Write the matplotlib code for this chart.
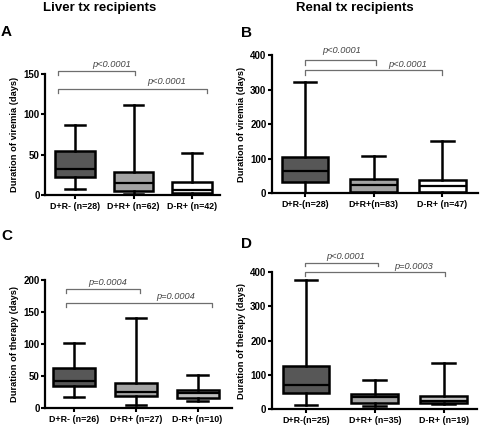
import matplotlib
matplotlib.use("Agg")
import matplotlib.pyplot as plt

plt.rcParams['font.family'] = ['Liberation Sans', 'DejaVu Sans']
plt.rcParams['font.weight'] = 'bold'

# ---- data ----
# A: liver, duration of viremia
a_labels = ["D+R- (n=28)", "D+R+ (n=62)", "D-R+ (n=42)"]
a_lo = [7.4, 1.6, 1.2]
a_q1 = [22.6, 5.3, 2.0]
a_med = [32.1, 14.4, 6.2]
a_q3 = [54.3, 28.0, 16.5]
a_hi = [87.2, 111.0, 52.7]

# B: renal, duration of viremia
b_labels = ["D+R-(n=28)", "D+R+(n=83)", "D-R+ (n=47)"]
b_lo = [0.5, 1.0, 1.0]
b_q1 = [34.0, 5.0, 3.0]
b_med = [66.0, 23.0, 21.0]
b_q3 = [105.0, 41.0, 39.0]
b_hi = [323.0, 107.0, 152.0]

# C: liver, duration of therapy
c_labels = ["D+R- (n=26)", "D+R+ (n=27)", "D-R+ (n=10)"]
c_lo = [16.7, 4.2, 10.4]
c_q1 = [34.5, 18.8, 15.7]
c_med = [42.3, 25.0, 22.5]
c_q3 = [62.7, 38.6, 27.7]
c_hi = [101.3, 140.0, 52.0]

# D: renal, duration of therapy
d_labels = ["D+R-(n=25)", "D+R+ (n=35)", "D-R+ (n=19)"]
d_lo = [11.6, 9.7, 14.5]
d_q1 = [46.5, 19.4, 19.0]
d_med = [70.7, 36.8, 25.0]
d_q3 = [126.0, 43.6, 38.7]
d_hi = [375.8, 85.0, 133.7]

a_p = ["p<0.0001", "p<0.0001"]
b_p = ["p<0.0001", "p<0.0001"]
c_p = ["p=0.0004", "p=0.0004"]
d_p = ["p<0.0001", "p=0.0003"]

fig = plt.figure(figsize=(4.8, 4.32), dpi=100)


def panel(rect, labels, lo, q1, med, q3, hi, colors, ymax, yticks, xlim,
          ylabel, brackets, pvals):
    ax = fig.add_axes(rect)
    stats = [dict(whislo=lo[i], q1=q1[i], med=med[i], q3=q3[i], whishi=hi[i])
             for i in range(3)]
    bp = ax.bxp(stats, positions=[0, 1, 2], widths=0.68, showfliers=False,
                patch_artist=True,
                boxprops=dict(linewidth=1.8, edgecolor='black'),
                whiskerprops=dict(linewidth=1.8),
                capprops=dict(linewidth=1.8),
                medianprops=dict(color='black', linewidth=1.6),
                capwidths=0.33)
    for patch, col in zip(bp['boxes'], colors):
        patch.set_facecolor(col)
    ax.set_xlim(*xlim)
    ax.set_ylim(0, ymax)
    ax.set_yticks(yticks)
    ax.set_xticks([0, 1, 2])
    ax.set_xticklabels(labels, fontsize=6.4, fontweight='bold')
    ax.tick_params(axis='y', labelsize=7.0, width=1.5, length=3, pad=1)
    ax.tick_params(axis='x', width=1.5, length=3, pad=2)
    for lab in ax.get_yticklabels():
        lab.set_fontweight('bold')
    ax.spines['top'].set_visible(False)
    ax.spines['right'].set_visible(False)
    ax.spines['left'].set_linewidth(1.6)
    ax.spines['bottom'].set_linewidth(1.6)
    ax.set_ylabel(ylabel, fontsize=6.7, fontweight='bold', labelpad=3)
    for (x0, x1, y, drop, ty, tx), pv in zip(brackets, pvals):
        ax.plot([x0, x0, x1, x1], [y - drop, y, y, y - drop], color='#6e6e6e',
                linewidth=0.9, clip_on=False)
        ax.text(tx, ty, pv, fontsize=6.7, style='italic', fontweight='normal',
                color='#444444', ha='center', va='center', clip_on=False)
    return ax


dark = '#575757'
mid = '#a3a3a3'

panel([0.094, 0.5486, 0.3646, 0.28], a_labels, a_lo, a_q1, a_med, a_q3, a_hi,
      [dark, mid, 'white'], 150, [0, 50, 100, 150], (-0.513, 2.48),
      "Duration of viremia (days)",
      [(-0.285, 1.03, 154, 5, 162, 0.63), (-0.285, 2.25, 132, 5, 141, 1.57)],
      a_p)

panel([0.5667, 0.5525, 0.429, 0.3194], b_labels, b_lo, b_q1, b_med, b_q3, b_hi,
      [dark, mid, 'white'], 400, [0, 100, 200, 300, 400], (-0.48, 2.52),
      "Duration of viremia (days)",
      [(0.0, 1.04, 386, 15, 415, 0.53), (0.0, 2.0, 357, 15, 372, 1.5)],
      b_p)

panel([0.094, 0.0562, 0.3896, 0.2956], c_labels, c_lo, c_q1, c_med, c_q3, c_hi,
      [dark, mid, '#bdbdbd'], 200, [0, 50, 100, 150, 200], (-0.47, 2.56),
      "Duration of therapy (days)",
      [(-0.135, 1.06, 185.6, 6, 196, 0.54), (-0.135, 2.23, 163.6, 6, 174, 1.64)],
      c_p)

panel([0.5667, 0.0525, 0.427, 0.3185], d_labels, d_lo, d_q1, d_med, d_q3, d_hi,
      [dark, mid, '#c4c4c4'], 400, [0, 100, 200, 300, 400], (-0.494, 2.485),
      "Duration of therapy (days)",
      [(-0.02, 1.04, 426, 10, 444, 0.58), (-0.02, 2.02, 399, 12, 415, 1.56)],
      d_p)

fig.text(100 / 480, 1 - 8 / 432, "Liver tx recipients", fontsize=9.5,
         fontweight='bold', ha='center', va='center')
fig.text(355 / 480, 1 - 8 / 432, "Renal tx recipients", fontsize=9.5,
         fontweight='bold', ha='center', va='center')
for letter, px, py in [("A", 1, 32), ("B", 241, 33), ("C", 1, 236), ("D", 241, 244)]:
    fig.text(px / 480, 1 - py / 432, letter, fontsize=11, fontweight='bold',
             ha='left', va='center')

fig.savefig("out.png", dpi=100)
